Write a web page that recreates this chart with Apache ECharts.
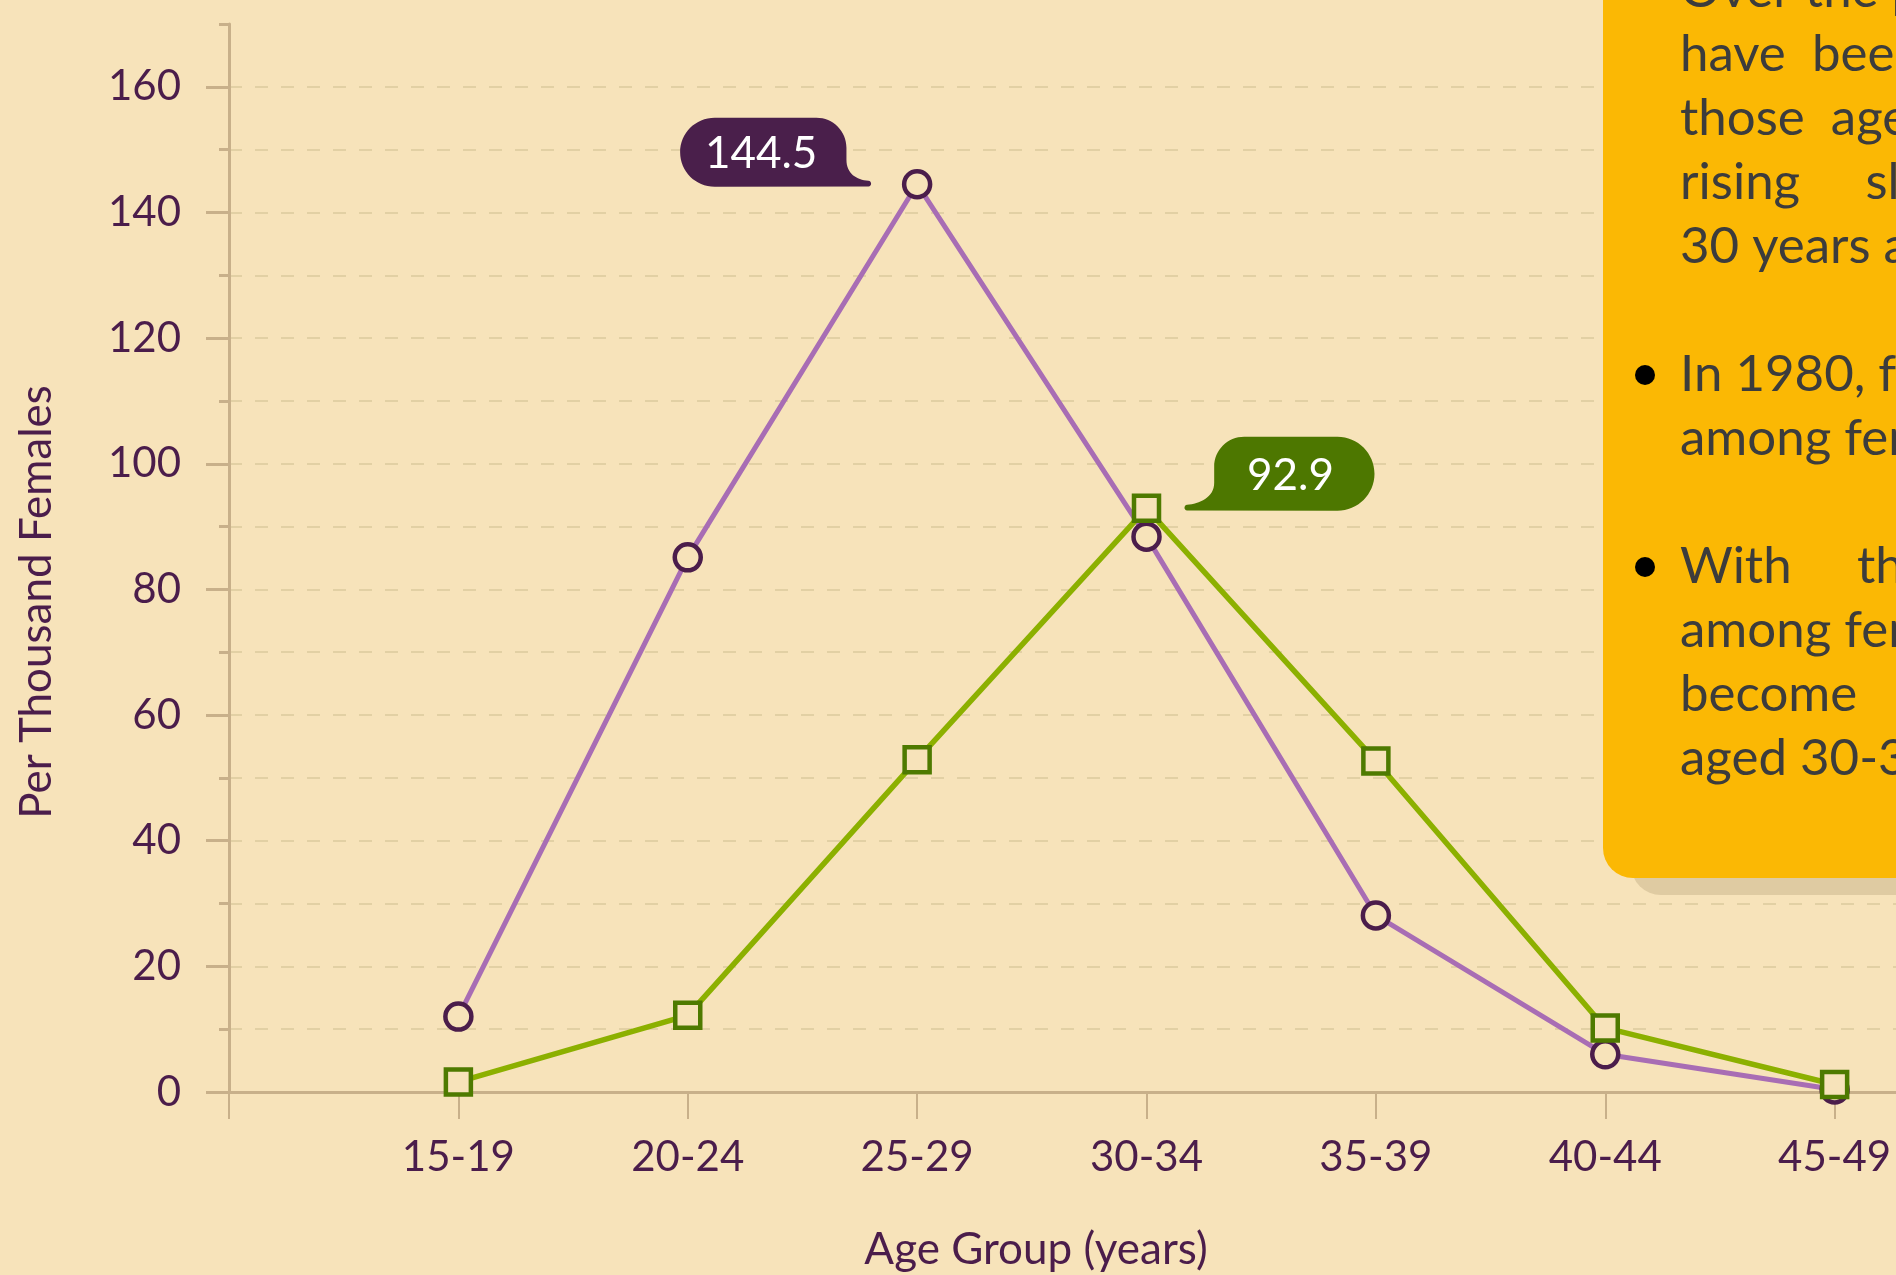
<!DOCTYPE html>
<html>
<head>
<meta charset="utf-8">
<script src="https://cdn.jsdelivr.net/npm/echarts@6/dist/echarts.min.js"></script>
<style>
  html, body { margin: 0; padding: 0; width: 1896px; height: 1275px; overflow: hidden; background: #f7e3ba; }
  #chart { width: 2300px; height: 1275px; }
</style>
</head>
<body>
<div id="chart"></div>
<script>
// ---- data ----
const ageGroups = ['15-19', '20-24', '25-29', '30-34', '35-39', '40-44', '45-49'];
const rates1980 = [12.0, 85.1, 144.5, 88.4, 28.1, 6.0, 0.4];
const ratesRecent = [1.6, 12.2, 52.9, 92.9, 52.7, 10.2, 1.2];
const majorTicks = [0, 20, 40, 60, 80, 100, 120, 140, 160];
const minorTicks = [10, 30, 50, 70, 90, 110, 130, 150, 170];
const peak1980Index = 2;
const peakRecentIndex = 3;
const noteLines = [
  'Over the past three decades, fertility rates',
  'have  been  falling  among  females  in',
  'those  aged  below  30  years,  while',
  'rising     slightly  among  those  aged',
  '30 years and above.',
  '',
  'In 1980, fertility rates were highest',
  'among females aged 25-29.',
  '',
  'With     the     increase     in     age',
  'among females, fertility rates have',
  'become     highest     among',
  'aged 30-34 years.'
];
const bulletLines = [6, 9];
const xTitle = 'Age Group (years)';
const yTitle = 'Per Thousand Females';

// ---- style ----
const BG = '#f7e3ba';
const AXIS = '#c8b08a';
const TEXT = '#4b1d4b';
const FONT = 'Lato';
const GRID = { color: '#e2d0a4', width: 2, type: [13, 13] };

const chart = echarts.init(document.getElementById('chart'), null, { renderer: 'canvas' });

const xData = [''].concat(ageGroups, ['']);

const purpleBubble = 'path://M34.5 0 L136 0 C152.6 0 166 13.4 166 30 L166 42 C166 56 176 62 188 63 C191.5 63.3 191.5 68.5 188 68.7 L34.5 69 C15.4 69 0 53.6 0 34.5 C0 15.4 15.4 0 34.5 0 Z';
const greenBubble = 'path://M60 0 L153 0 C173.4 0 190 16.6 190 37 C190 57.4 173.4 74 153 74 L3 73.7 C-0.5 73.5 -0.5 68.3 3 68 C15 67 30 61 30 46 L30 30 C30 13.4 43.4 0 60 0 Z';

const textGraphics = [];
textGraphics.push({
  type: 'rect', z: 100, shape: { x: 1631, y: -40, width: 700, height: 935, r: 30 },
  style: { fill: '#dfcba2' }
});
textGraphics.push({
  type: 'rect', z: 101, shape: { x: 1603, y: -40, width: 700, height: 918, r: 30 },
  style: { fill: '#fbb804' }
});
textGraphics.push({
  type: 'text', z: 102, x: 1680, y: -41,
  style: {
    text: noteLines.join('\n'), fill: '#3c3c3c', font: '51px ' + FONT,
    lineHeight: 64, verticalAlign: 'top', align: 'left'
  }
});
bulletLines.forEach(function (i) {
  textGraphics.push({
    type: 'circle', z: 102, shape: { cx: 1645, cy: -9 + 64 * i, r: 10 },
    style: { fill: '#000' }
  });
});
textGraphics.push({
  type: 'text', x: 1036, y: 1250,
  style: { text: xTitle, fill: TEXT, font: '44px ' + FONT, align: 'center', verticalAlign: 'middle' }
});
textGraphics.push({
  type: 'text', x: 37, y: 602, rotation: Math.PI / 2,
  style: { text: yTitle, fill: TEXT, font: '44px ' + FONT, align: 'center', verticalAlign: 'middle' }
});

const option = {
  backgroundColor: BG,
  animation: false,
  grid: { left: 229, top: 24, width: 1835, height: 1068 },
  xAxis: {
    type: 'category',
    data: xData,
    boundaryGap: false,
    axisLine: { onZero: true, lineStyle: { color: AXIS, width: 3 } },
    axisTick: { length: 27, lineStyle: { color: AXIS, width: 2 } },
    axisLabel: { interval: 0, margin: 44, color: TEXT, fontSize: 42, fontFamily: FONT },
    splitLine: { show: false }
  },
  yAxis: [
    {
      type: 'value', min: 0, max: 170, interval: 10,
      axisLine: { show: true, lineStyle: { color: AXIS, width: 3 } },
      axisTick: { show: true, customValues: majorTicks, length: 23, lineStyle: { color: AXIS, width: 3 } },
      axisLabel: { customValues: majorTicks, margin: 48, color: TEXT, fontSize: 42, fontFamily: FONT },
      splitLine: { show: true, showMaxLine: true, showMinLine: false, lineStyle: GRID }
    },
    {
      type: 'value', min: 0, max: 170, interval: 10, position: 'left',
      axisLine: { show: false },
      axisTick: { show: true, customValues: minorTicks, length: 10, lineStyle: { color: AXIS, width: 3 } },
      axisLabel: { show: false },
      splitLine: { show: true, showMaxLine: false, showMinLine: true, lineStyle: GRID }
    }
  ],
  series: [
    {
      name: '1980',
      type: 'line',
      yAxisIndex: 0,
      data: ageGroups.map(function (g, i) { return [g, rates1980[i]]; }),
      symbol: 'circle',
      symbolSize: 26,
      lineStyle: { color: '#a86db4', width: 5 },
      itemStyle: { color: BG, borderColor: '#4b1d4b', borderWidth: 4.5 },
      z: 2,
      markPoint: {
        symbol: purpleBubble,
        symbolSize: [191, 69],
        symbolOffset: [-141.5, -32],
        itemStyle: { color: '#4a1f4b' },
        label: { show: true, position: 'inside', offset: [-14.5, 1.5], color: '#ffffff', fontSize: 44, fontFamily: FONT, formatter: '{c}' },
        data: [{ coord: [ageGroups[peak1980Index], rates1980[peak1980Index]], value: rates1980[peak1980Index].toFixed(1) }]
      }
    },
    {
      name: '2019',
      type: 'line',
      yAxisIndex: 0,
      data: ageGroups.map(function (g, i) { return [g, ratesRecent[i]]; }),
      symbol: 'rect',
      symbolSize: 25,
      lineStyle: { color: '#8cb000', width: 5.5 },
      itemStyle: { color: BG, borderColor: '#4e7a00', borderWidth: 4.5 },
      z: 3,
      markPoint: {
        symbol: greenBubble,
        symbolSize: [190, 74],
        symbolOffset: [133, -34.5],
        itemStyle: { color: '#4d7700' },
        label: { show: true, position: 'inside', offset: [11, 2], color: '#ffffff', fontSize: 44, fontFamily: FONT, formatter: '{c}' },
        data: [{ coord: [ageGroups[peakRecentIndex], ratesRecent[peakRecentIndex]], value: ratesRecent[peakRecentIndex].toFixed(1) }]
      }
    }
  ],
  graphic: textGraphics
};

chart.setOption(option);
</script>
</body>
</html>
